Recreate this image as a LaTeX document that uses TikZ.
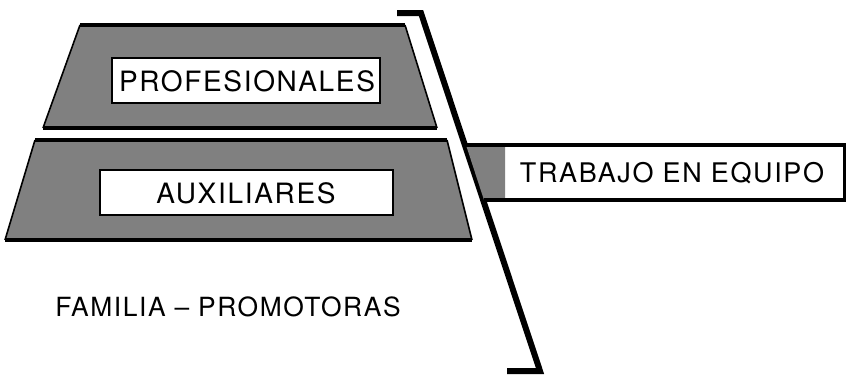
\documentclass[tikz,border=0pt]{standalone}
\usepackage{fontspec}
\setmainfont{TeX Gyre Heros}[LetterSpace=6]
\usetikzlibrary{calc}
\definecolor{stipple}{gray}{0.5}
% tier: top left x, top right x, top y, bottom left x, bottom right x, bottom y
\newcommand{\tier}[6]{\fill[stipple] (#1,#3) -- (#2,#3) -- (#5,#6) -- (#4,#6) -- cycle; \draw[line width=2pt] (#1,#3) -- (#2,#3); \draw[line width=2.4pt] (#4,#6) -- (#5,#6); \draw[thick] (#1,#3) -- (#4,#6); \draw[thick] (#2,#3) -- (#5,#6);}
% hole: white box inside a tier
\newcommand{\hole}[4]{\filldraw[fill=white, draw=black, line width=1.2pt] (#1,#2) rectangle (#3,#4);}

\begin{document}
\begin{tikzpicture}[x=0.5pt, y=-0.5pt, lbl/.style={font=\fontsize{14}{16}\selectfont, inner sep=0pt}]
        \useasboundingbox (0,0) rectangle (846,377);
        % tier 1
        \tier{80}{405}{25}{43}{437}{128}
        \hole{112}{58}{380}{103}
        \node[lbl] (prof) at (247,81) {PROFESIONALES};
        % tier 2
        \tier{35}{447}{140}{5}{472}{240}
        \hole{100}{170}{393}{215}
        \node[lbl] (aux) at (246,193) {AUXILIARES};
        % base
        \node[lbl, font=\fontsize{13.2}{15}\selectfont] (fam) at (228,307) {FAMILIA -- PROMOTORAS};
        % bracket
        \draw[line width=3pt, miter limit=4] (397,13) -- (421,13) -- (540,371) -- (507,371);
        % team box
        \fill[stipple] (466,145) -- (505,145) -- (505,200) -- (484,200) -- cycle;
        \draw[line width=2.4pt] (466,145) -- (846,145);
        \draw[line width=2.4pt] (484,200) -- (846,200);
        \draw[line width=2pt] (845,145) -- (845,200);
        \node[lbl, font=\fontsize{13.5}{15}\selectfont] (team) at (672,173) {TRABAJO EN EQUIPO};
    \end{tikzpicture}
\end{document}
